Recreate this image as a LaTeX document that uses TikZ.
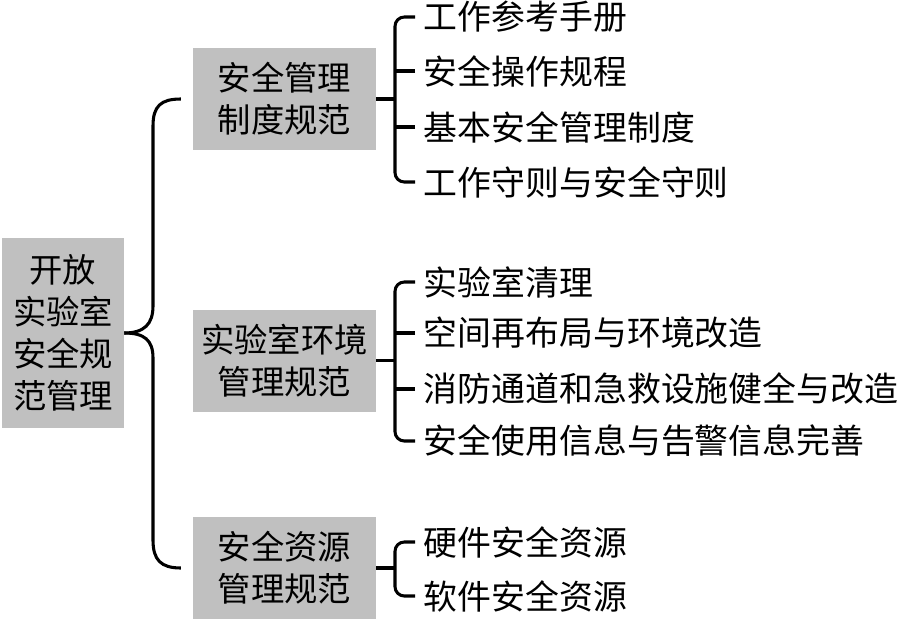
\documentclass[tikz,border=0pt]{standalone}
\usepackage{fontspec}
\setmainfont{Noto Sans CJK SC}
\begin{document}
\begin{tikzpicture}[x=0.75pt,y=-0.75pt,
  box/.style={fill=boxgray,draw=none,align=center,inner sep=0pt,font=\fontsize{25}{31.5}\selectfont},
  item/.style={anchor=west,inner xsep=6.5pt,inner ysep=0pt,font=\fontsize{25.4}{30}\selectfont},
  br/.style={line width=2.3pt,rounded corners=7pt},
  big/.style={line width=2.3pt}]
\definecolor{boxgray}{RGB}{192,192,192}
\useasboundingbox[fill=white] (0,0) rectangle (900,618);
% root
\node[box,minimum width=91.5pt,minimum height=143pt] (root) at (63,333) {开放\\实验室\\安全规\\范管理};
% middle boxes
\node[box,minimum width=137pt,minimum height=76.5pt] (m1) at (284.5,99) {安全管理\\制度规范};
\node[box,minimum width=137pt,minimum height=76.5pt] (m2) at (284.5,360.5) {实验室环境\\管理规范};
\node[box,minimum width=137pt,minimum height=76.5pt] (m3) at (284.5,568) {安全资源\\管理规范};
% items
\node[item] (a1) at (415,17) {工作参考手册};
\node[item] (a2) at (415,71) {安全操作规程};
\node[item] (a3) at (415,127) {基本安全管理制度};
\node[item] (a4) at (415,182) {工作守则与安全守则};
\node[item] (b1) at (415,282) {实验室清理};
\node[item] (b2) at (415,333) {空间再布局与环境改造};
\node[item] (b3) at (415,389) {消防通道和急救设施健全与改造};
\node[item] (b4) at (415,441) {安全使用信息与告警信息完善};
\node[item] (c1) at (415,542) {硬件安全资源};
\node[item] (c2) at (415,596) {软件安全资源};
% spine x coordinate
\coordinate (sp) at (395,0);
% group 1
\draw[br] (a1.west) -- (a1.west -| sp) -- (a4.west -| sp) -- (a4.west);
\draw[big] (a2.west) -- (a2.west -| sp);
\draw[big] (a3.west) -- (a3.west -| sp);
\draw[big] (m1.east) -- (m1.east -| sp);
% group 2
\draw[br] (b1.west) -- (b1.west -| sp) -- (b4.west -| sp) -- (b4.west);
\draw[big] (b2.west) -- (b2.west -| sp);
\draw[big] (b3.west) -- (b3.west -| sp);
\draw[big] (m2.east) -- (m2.east -| sp);
% group 3
\draw[br] (c1.west) -- (c1.west -| sp) -- (c2.west -| sp) -- (c2.west);
\draw[big] (m3.east) -- (m3.east -| sp);
% big brace
\coordinate (bt) at ([xshift=-9pt]m1.west);
\coordinate (bb) at ([xshift=-9pt]m3.west);
\draw[big] (bt) .. controls +(-20,0) and +(0,-20) .. (153,126) -- (153,306)
  .. controls +(0,18) and +(20,0) .. (root.east);
\draw[big] (root.east) .. controls +(20,0) and +(0,-18) .. (153,358) -- (153,540)
  .. controls +(0,20) and +(-20,0) .. (bb);
\end{tikzpicture}
\end{document}
